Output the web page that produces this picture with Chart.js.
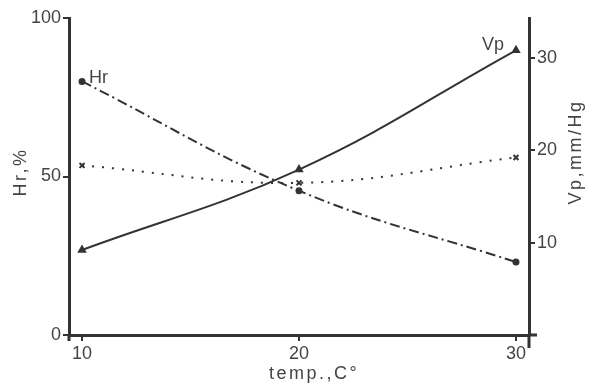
<!DOCTYPE html>
<html>
<head>
<meta charset="utf-8">
<script src="https://cdn.jsdelivr.net/npm/chart.js@4.4.1/dist/chart.umd.min.js"></script>
<style>
  html, body { margin: 0; padding: 0; background: #fff; }
  #wrap { width: 593px; height: 387px; position: relative; }
</style>
</head>
<body>
<div id="wrap"><canvas id="grafico" width="593" height="387"></canvas></div>
<script>
// dados
const temps = [10, 20, 30];
const hr = [80, 45.5, 23];          // Hr, % (eixo esquerdo)
const vp = [9.2, 17.9, 30.8];       // Vp, mm/Hg (eixo direito)
const pontilhado = [53.5, 48, 56];  // curva pontilhada (eixo esquerdo)

const ticksX = [10, 20, 30];
const ticksHr = [0, 50, 100];
const ticksVp = [10, 20, 30];

const corLinha = "#333";
const corTexto = "#444";
const fonte = "'Liberation Sans', Arial, sans-serif";

function pares(ys) {
  return temps.map((t, i) => ({ x: t, y: ys[i] }));
}

const textos = {
  id: "textos",
  afterDraw(chart) {
    const ctx = chart.ctx;
    const area = chart.chartArea;
    const x = chart.scales.x;
    const yL = chart.scales.yHr;
    const yR = chart.scales.yVp;
    ctx.save();

    // pontas dos eixos que passam do cruzamento
    ctx.strokeStyle = corLinha;
    ctx.lineWidth = 3;
    ctx.beginPath();
    ctx.moveTo(area.left, area.bottom);
    ctx.lineTo(area.left, area.bottom + 6);
    ctx.moveTo(area.right, area.bottom);
    ctx.lineTo(area.right, area.bottom + 13);
    ctx.moveTo(area.right, area.bottom);
    ctx.lineTo(area.right + 8, area.bottom);
    ctx.stroke();

    ctx.fillStyle = corTexto;
    ctx.font = "18px " + fonte;
    ctx.textBaseline = "middle";

    // rótulos das curvas
    ctx.textAlign = "left";
    ctx.fillText("Hr", x.getPixelForValue(temps[0]) + 7, yL.getPixelForValue(hr[0]) - 3);
    ctx.textAlign = "right";
    ctx.fillText("Vp", x.getPixelForValue(temps[2]) - 12, yR.getPixelForValue(vp[2]) - 5);

    // títulos dos eixos
    ctx.letterSpacing = "2.5px";
    ctx.textAlign = "center";
    ctx.fillText("temp.,C°", 314, 374);

    ctx.save();
    ctx.translate(21, 172);
    ctx.rotate(-Math.PI / 2);
    ctx.fillText("Hr,%", 0, 0);
    ctx.restore();

    ctx.save();
    ctx.translate(576, 152);
    ctx.rotate(-Math.PI / 2);
    ctx.fillText("Vp,mm/Hg", 0, 0);
    ctx.restore();

    ctx.restore();
  }
};

const eixoBase = {
  border: { display: true, color: corLinha, width: 3 },
  grid: { drawOnChartArea: false, drawTicks: true, tickLength: 6, color: corLinha, lineWidth: 2 },
  ticks: { color: corTexto, font: { family: fonte, size: 18 }, padding: 2 }
};

const ctx = document.getElementById("grafico").getContext("2d");

new Chart(ctx, {
  type: "line",
  data: {
    datasets: [
      {
        label: "Hr",
        data: pares(hr),
        yAxisID: "yHr",
        borderColor: corLinha,
        borderWidth: 2,
        borderDash: [10, 4, 2, 4],
        tension: 0.4,
        pointStyle: "circle",
        pointRadius: 2.5,
        pointBackgroundColor: corLinha,
        pointBorderColor: corLinha
      },
      {
        label: "Vp",
        data: pares(vp),
        yAxisID: "yVp",
        borderColor: corLinha,
        borderWidth: 2,
        tension: 0.4,
        pointStyle: "triangle",
        pointRadius: 3.5,
        pointBackgroundColor: corLinha,
        pointBorderColor: corLinha
      },
      {
        label: "pontilhado",
        data: pares(pontilhado),
        yAxisID: "yHr",
        borderColor: corLinha,
        borderWidth: 2,
        borderDash: [2, 8],
        tension: 0.4,
        pointStyle: "crossRot",
        pointRadius: 3.5,
        pointBorderWidth: 2,
        pointBorderColor: corLinha
      }
    ]
  },
  options: {
    responsive: false,
    animation: false,
    layout: { padding: { top: 18, left: 0, right: 0, bottom: 0 } },
    plugins: { legend: { display: false }, tooltip: { enabled: false } },
    scales: {
      x: {
        ...eixoBase,
        type: "linear",
        min: 9.4,
        max: 30.6,
        afterBuildTicks: s => { s.ticks = ticksX.map(v => ({ value: v })); },
        afterFit: s => { s.height = 52; }
      },
      yHr: {
        ...eixoBase,
        position: "left",
        min: 0,
        max: 100,
        afterBuildTicks: s => { s.ticks = ticksHr.map(v => ({ value: v })); },
        afterFit: s => { s.width = 69; }
      },
      yVp: {
        ...eixoBase,
        position: "right",
        min: 0,
        max: 34.3,
        afterBuildTicks: s => { s.ticks = ticksVp.map(v => ({ value: v })); },
        afterFit: s => { s.width = 64; }
      }
    }
  },
  plugins: [textos]
});
</script>
</body>
</html>
